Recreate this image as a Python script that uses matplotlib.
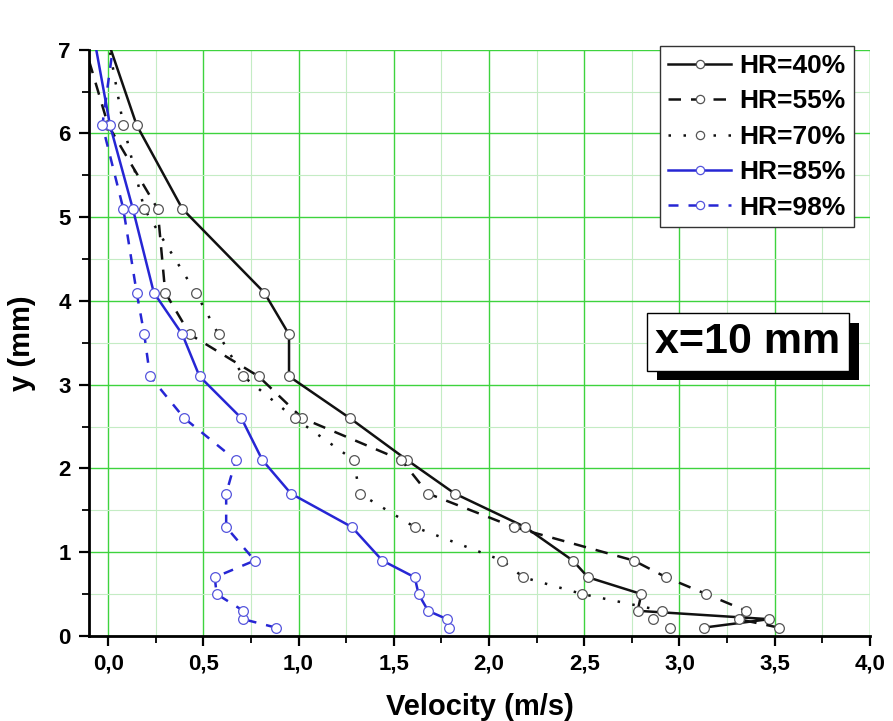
import matplotlib
matplotlib.use("Agg")
import matplotlib.pyplot as plt
import matplotlib.patheffects as pe
from matplotlib.ticker import MultipleLocator, FixedLocator

plt.rcParams['font.family'] = ['Liberation Sans', 'DejaVu Sans']
plt.rcParams['font.weight'] = 'bold'

# heights above the wall (mm)
y_mm = [0.1, 0.2, 0.3, 0.5, 0.7, 0.9, 1.3, 1.7, 2.1, 2.6, 3.1, 3.6, 4.1, 5.1, 6.1, 7.1]

# velocity profiles (m/s) for each relative humidity
hr40 = [3.13, 3.47, 2.78, 2.80, 2.52, 2.44, 2.19, 1.82, 1.57, 1.27, 0.95, 0.95, 0.82, 0.39, 0.15, 0.00]
hr55 = [3.52, 3.31, 3.35, 3.14, 2.93, 2.76, 2.13, 1.68, 1.54, 1.02, 0.79, 0.43, 0.30, 0.26, 0.00, -0.13]
hr70 = [2.95, 2.86, 2.91, 2.49, 2.18, 2.07, 1.61, 1.32, 1.29, 0.98, 0.71, 0.58, 0.46, 0.19, 0.08, 0.00]
hr85 = [1.79, 1.78, 1.68, 1.63, 1.61, 1.44, 1.28, 0.96, 0.81, 0.70, 0.48, 0.39, 0.24, 0.13, 0.01, -0.07]
hr98 = [0.88, 0.71, 0.71, 0.57, 0.56, 0.77, 0.62, 0.62, 0.67, 0.40, 0.22, 0.19, 0.15, 0.08, -0.03, 0.03]

labels = ['HR=40%', 'HR=55%', 'HR=70%', 'HR=85%', 'HR=98%']
xtick_vals = [0.0, 0.5, 1.0, 1.5, 2.0, 2.5, 3.0, 3.5, 4.0]
xtick_labels = ['0,0', '0,5', '1,0', '1,5', '2,0', '2,5', '3,0', '3,5', '4,0']

blue = '#2626d4'
styles = [
    dict(color='#111111', linestyle='-'),
    dict(color='#111111', linestyle=(0, (5, 4))),
    dict(color='#111111', linestyle=(0, (1, 5))),
    dict(color=blue, linestyle='-'),
    dict(color=blue, linestyle=(0, (4, 4))),
]

fig = plt.figure(figsize=(8.93, 7.21), dpi=100)
ax = fig.add_axes([0.0997, 0.118, 0.8745, 0.813])

for vals, lab, st in zip([hr40, hr55, hr70, hr85, hr98], labels, styles):
    mec = '#555555' if st['color'] != blue else '#5555dd'
    ax.plot(vals, y_mm, label=lab, linewidth=1.8, marker='o', markersize=7,
            markerfacecolor='white', markeredgecolor=mec, markeredgewidth=0.9, **st)

ax.set_xlim(-0.1, 4.0)
ax.set_ylim(0, 7)

# grid
ax.xaxis.set_major_locator(FixedLocator(xtick_vals))
ax.set_xticklabels(xtick_labels)
ax.xaxis.set_minor_locator(MultipleLocator(0.25))
ax.yaxis.set_major_locator(MultipleLocator(1))
ax.yaxis.set_minor_locator(MultipleLocator(0.5))
ax.grid(which='major', color='#3ed33e', linewidth=1.0)
ax.grid(which='minor', color='#c4ecc4', linewidth=0.8)
ax.set_axisbelow(True)

for side in ['top', 'right']:
    ax.spines[side].set_visible(False)
for side in ['left', 'bottom']:
    ax.spines[side].set_linewidth(2)
ax.tick_params(which='major', direction='out', length=7, width=1.6, labelsize=16, pad=6)
ax.tick_params(which='minor', direction='out', length=5, width=1.3)
for t in ax.get_xticklabels() + ax.get_yticklabels():
    t.set_fontweight('bold')

ax.set_xlabel('Velocity (m/s)', fontsize=21, fontweight='bold', labelpad=13)
ax.set_ylabel('y (mm)', fontsize=21, fontweight='bold', labelpad=16)

leg = ax.legend(loc='upper right', bbox_to_anchor=(0.979, 1.006), fontsize=19,
                handlelength=2.4, numpoints=1, fancybox=False, framealpha=1,
                edgecolor='#333333', borderpad=0.3, labelspacing=0.43, handletextpad=0.3,
                borderaxespad=0.0, markerscale=0.85)
leg.get_frame().set_linewidth(1.0)
for t in leg.get_texts():
    t.set_fontweight('bold')

# annotation box with a solid drop shadow
note = ax.text(3.36, 3.51, 'x=10 mm', fontsize=31, fontweight='bold', ha='center', va='center',
               bbox=dict(boxstyle='square,pad=0.2', facecolor='white', edgecolor='black', linewidth=1.0))
note.get_bbox_patch().set_path_effects([
    pe.SimplePatchShadow(offset=(7, -7), shadow_rgbFace='black', alpha=1.0),
    pe.Normal(),
])

fig.savefig('out.png', dpi=100)
